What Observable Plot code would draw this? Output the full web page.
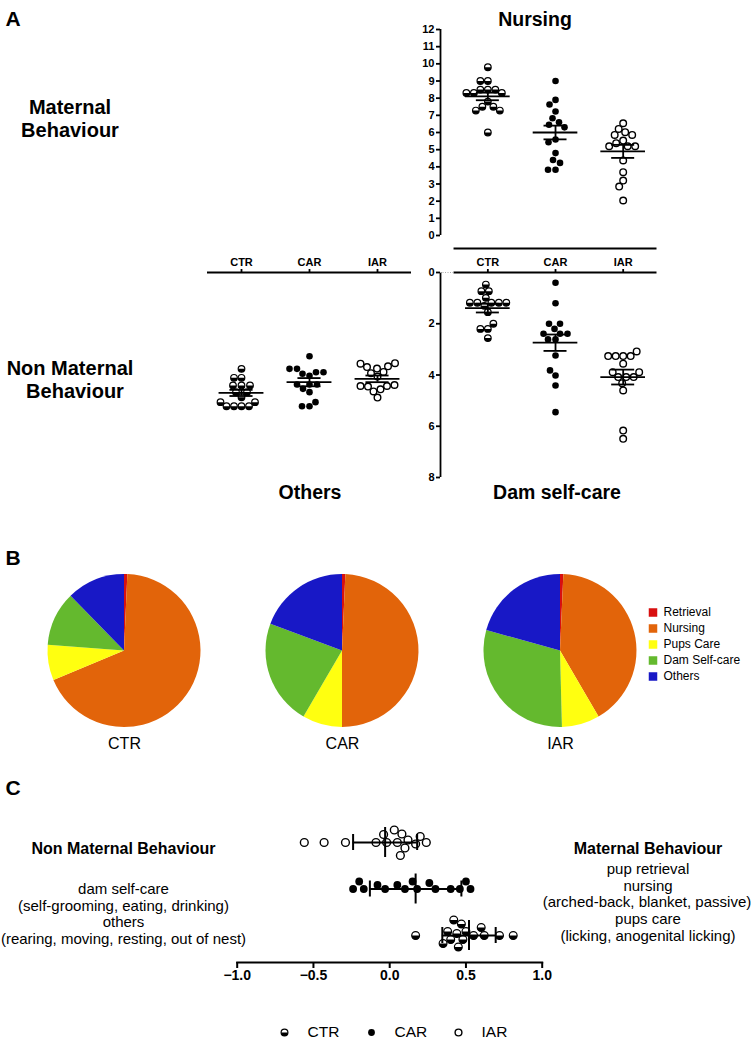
<!DOCTYPE html>
<html><head><meta charset="utf-8">
<script src="https://cdn.jsdelivr.net/npm/d3@7"></script>
<script src="https://cdn.jsdelivr.net/npm/@observablehq/plot@0.6"></script>
<style>
body{margin:0;background:#fff;font-family:"Liberation Sans",Arial,sans-serif;}
#root{position:relative;width:756px;height:1040px;overflow:hidden;background:#fff;}
.pl{position:absolute;}
.t{position:absolute;transform:translate(-50%,-50%);white-space:nowrap;color:#000;line-height:1;}
</style></head><body><div id="root"></div>
<script>
// ---------- DATA ----------
const groups = ["CTR", "CAR", "IAR"];

// Panel A - Nursing
const nursingCTR = [9.8, 9.0, 9.0, 8.5, 8.5, 8.5, 8.3, 8.3, 8.3, 7.8, 7.5, 7.5, 7.28, 7.28, 6.0];
const nursingCAR = [9.0, 7.9, 7.63, 7.22, 6.83, 6.6, 6.45, 6.3, 5.59, 5.43, 4.8, 4.4, 4.23, 3.83, 3.83];
const nursingIAR = [6.54, 6.21, 6.02, 5.86, 5.86, 5.53, 5.38, 5.2, 5.2, 5.2, 4.37, 3.69, 3.2, 2.85, 2.04];
const nursingMean = [8.1, 6.0, 4.9];
const nursingSEM = [0.22, 0.4, 0.38];
const nursingTicks = [0, 1, 2, 3, 4, 5, 6, 7, 8, 9, 10, 11, 12];

// Panel A - Dam self-care
const damCTR = [0.47, 0.73, 0.73, 0.99, 1.18, 1.18, 1.18, 1.18, 1.18, 1.3, 1.55, 2.0, 2.2, 2.2, 2.56];
const damCAR = [0.4, 1.2, 2.0, 2.0, 2.2, 2.39, 2.39, 2.39, 2.61, 2.61, 3.24, 3.82, 4.02, 4.41, 5.45];
const damIAR = [3.08, 3.26, 3.26, 3.26, 3.26, 3.56, 3.89, 3.89, 4.08, 4.08, 4.08, 4.32, 4.6, 6.17, 6.49];
const damMean = [1.39, 2.74, 4.08];
const damSEM = [0.17, 0.32, 0.29];
const damTicks = [0, 2, 4, 6, 8];

// Panel A - Others
const othersCTR = [3.76, 4.11, 4.11, 4.41, 4.41, 4.41, 4.67, 4.67, 4.87, 5.06, 5.06, 5.22, 5.22, 5.22, 5.22];
const othersCAR = [3.27, 3.76, 3.76, 3.89, 3.89, 3.95, 4.03, 4.37, 4.37, 4.37, 4.54, 4.67, 5.06, 5.22, 5.22];
const othersIAR = [3.54, 3.56, 3.66, 3.69, 3.75, 3.88, 3.93, 4.06, 4.39, 4.43, 4.43, 4.45, 4.56, 4.64, 4.88];
const othersMean = [4.70, 4.28, 4.15];
const othersSEM = [0.12, 0.16, 0.13];

// Panel B - pies (% of time)
const pieCategories = ["Retrieval", "Nursing", "Pups Care", "Dam Self-care", "Others"];
const pieCTR = [0.7, 68.0, 7.5, 11.5, 12.3];
const pieCAR = [0.7, 49.3, 8.4, 22.3, 19.3];
const pieIAR = [0.7, 40.9, 8.0, 29.7, 20.7];
const pieColors = ["#d80f0f", "#e2640a", "#ffff10", "#64b92e", "#1818c6"];

// Panel C
const cCTR = [0.17, 0.35, 0.38, 0.40, 0.42, 0.44, 0.45, 0.47, 0.48, 0.50, 0.55, 0.60, 0.62, 0.72, 0.81];
const cCAR = [-0.24, -0.2, -0.17, -0.08, -0.03, 0.05, 0.1, 0.15, 0.18, 0.26, 0.3, 0.4, 0.46, 0.5, 0.53];
const cIAR = [-0.56, -0.43, -0.29, -0.09, -0.04, -0.02, 0.03, 0.05, 0.07, 0.08, 0.10, 0.12, 0.17, 0.20, 0.24];
const cMean = [0.52, 0.17, -0.03];
const cSD = [0.175, 0.3, 0.21];
const cTicks = [-1, -0.5, 0, 0.5, 1];

// ---------- HELPERS ----------
const FONT = '"Liberation Sans", Arial, sans-serif';
const root = document.getElementById("root");
function place(node, left, top) { node.classList.add("pl"); node.style.left = left + "px"; node.style.top = top + "px"; root.appendChild(node); }
function label(text, cx, cy, size, bold) {
  const d = document.createElement("div"); d.className = "t"; d.textContent = text;
  d.style.left = cx + "px"; d.style.top = cy + "px"; d.style.fontSize = size + "px";
  d.style.fontWeight = bold ? "bold" : "normal"; root.appendChild(d);
}
// simple beeswarm: offsets (in offset-axis data units) so dots don't collide
function swarm(vals, kOff, kVal, sep) {
  const order = d3.range(vals.length).sort((a, b) => d3.descending(vals[a], vals[b]));
  const placed = []; const off = new Array(vals.length);
  for (const i of order) {
    const v = vals[i] * kVal;
    for (let k = 0; k < 400; k++) {
      const o = (k % 2 ? -1 : 1) * Math.ceil(k / 2) * 0.5;
      if (placed.every(p => (p.o - o) ** 2 + (p.v - v) ** 2 >= sep * sep - 1e-6)) { placed.push({o, v}); off[i] = o / kOff; break; }
    }
  }
  return off;
}
function points(series, kOff, kVal, sep) {
  const out = [];
  series.forEach((vals, gi) => {
    const off = swarm(vals, kOff, kVal, sep);
    vals.forEach((v, j) => out.push({group: groups[gi], pos: gi + 1 + off[j], value: v}));
  });
  return out;
}
const halfDisc = {draw(ctx, size) { const r = Math.sqrt(size / Math.PI); ctx.moveTo(r, 0); ctx.arc(0, 0, r, 0, Math.PI); ctx.closePath(); }};
function dotMarks(data, ch, r) {
  const f = g => data.filter(d => d.group === g);
  return [
    Plot.dot(f("CTR"), {...ch, r, fill: "white", stroke: "black", strokeWidth: 1.2}),
    Plot.dot(f("CTR"), {...ch, r, symbol: halfDisc, fill: "black", stroke: "none"}),
    Plot.dot(f("CAR"), {...ch, r, fill: "black", stroke: "none"}),
    Plot.dot(f("IAR"), {...ch, r, fill: "white", stroke: "black", strokeWidth: 1.4})
  ];
}
function errA(means, sems) {
  const rows = groups.map((g, i) => ({x: i + 1, m: means[i], s: sems[i]}));
  const sw = 1.8;
  return [
    Plot.ruleY(rows, {y: "m", x1: d => d.x - 0.33, x2: d => d.x + 0.33, strokeWidth: sw}),
    Plot.ruleY(rows, {y: d => d.m + d.s, x1: d => d.x - 0.17, x2: d => d.x + 0.17, strokeWidth: sw}),
    Plot.ruleY(rows, {y: d => d.m - d.s, x1: d => d.x - 0.17, x2: d => d.x + 0.17, strokeWidth: sw}),
    Plot.ruleX(rows, {x: "x", y1: d => d.m - d.s, y2: d => d.m + d.s, strokeWidth: sw})
  ];
}
const axStyle = {fontFamily: FONT, fontSize: "11px", fontWeight: "bold", color: "black", background: "transparent", overflow: "visible"};

// ---------- PANEL A : Nursing ----------
const kxA = 216.5 / 3.2;
const nursingPts = points([nursingCTR, nursingCAR, nursingIAR], kxA, 17.17, 7.2);
place(Plot.plot({
  width: 270, height: 240, marginLeft: 40, marginRight: 13.5, marginTop: 9, marginBottom: 25,
  style: axStyle,
  x: {domain: [0.3, 3.5], range: [40, 256.5], axis: null},
  y: {domain: [0, 12], range: [215, 9], axis: null},
  marks: [
    Plot.ruleX([0.3], {y1: 0, y2: 12, strokeWidth: 1.8}),
    Plot.axisY({ticks: nursingTicks, tickSize: 4, tickPadding: 2, strokeWidth: 1.8}),
    Plot.ruleY([0], {x1: 0.5, x2: 3.5, dy: 13, strokeWidth: 1.8}),
    ...dotMarks(nursingPts, {x: "pos", y: "value"}, 3.3),
    ...errA(nursingMean, nursingSEM)
  ]
}), 400, 20);

// ---------- PANEL A : Dam self-care ----------
const damPts = points([damCTR, damCAR, damIAR], kxA, 25.625, 7.2);
place(Plot.plot({
  width: 270, height: 240, marginLeft: 40, marginRight: 13.5, marginTop: 27, marginBottom: 8,
  style: axStyle,
  x: {domain: [0.3, 3.5], range: [40, 256.5], axis: null},
  y: {domain: [0, 8], range: [27, 232], axis: null},
  marks: [
    Plot.ruleX([0.3], {y1: 0, y2: 8, strokeWidth: 1.8}),
    Plot.axisY({ticks: damTicks, tickSize: 4, tickPadding: 2, strokeWidth: 1.8}),
    Plot.ruleY([0], {x1: 0.5, x2: 3.5, strokeWidth: 1.8}),
    Plot.ruleY([0], {x1: 0.3, x2: 0.5, stroke: "#aaa", strokeDasharray: "1,1.5", strokeWidth: 1.2}),
    Plot.axisX({anchor: "top", ticks: [1, 2, 3], tickFormat: i => groups[i - 1], tickSize: 4, tickPadding: 3, strokeWidth: 1.8}),
    ...dotMarks(damPts, {x: "pos", y: "value"}, 3.3),
    ...errA(damMean, damSEM)
  ]
}), 400, 245);

// ---------- PANEL A : Others ----------
const othersPts = points([othersCTR, othersCAR, othersIAR], 68, 25.625, 7.2);
place(Plot.plot({
  width: 230, height: 240, marginLeft: 17, marginRight: 9, marginTop: 27, marginBottom: 8,
  style: axStyle,
  x: {domain: [0.5, 3.5], range: [17, 221], axis: null},
  y: {domain: [0, 8], range: [27, 232], axis: null},
  marks: [
    Plot.ruleY([0], {x1: 0.5, x2: 3.5, strokeWidth: 1.8}),
    Plot.axisX({anchor: "top", ticks: [1, 2, 3], tickFormat: i => groups[i - 1], tickSize: 4, tickPadding: 3, strokeWidth: 1.8}),
    ...dotMarks(othersPts, {x: "pos", y: "value"}, 3.3),
    ...errA(othersMean, othersSEM)
  ]
}), 190, 245);

// ---------- PANEL B : pies ----------
const pieSets = [pieCTR, pieCAR, pieIAR];
function pieMark(index, scales, values, dims) {
  const g = d3.create("svg:g");
  const r = 76.5, cy = dims.marginTop + r;
  const pie = d3.pie().sort(null).value(d => d.v);
  const arc = d3.arc().innerRadius(0).outerRadius(r);
  groups.forEach((grp, gi) => {
    g.append("g").attr("transform", `translate(${scales.x(grp)},${cy})`)
      .selectAll("path").data(pie(pieSets[gi].map((v, i) => ({v, c: pieCategories[i]})))).join("path")
      .attr("d", arc).attr("fill", d => scales.color(d.data.c));
  });
  return g.node();
}
place(Plot.plot({
  width: 756, height: 195, marginLeft: 0, marginRight: 103.5, marginTop: 9, marginBottom: 0,
  style: {fontFamily: FONT, background: "transparent", overflow: "visible", color: "black"},
  x: {type: "point", domain: groups, range: [123.5, 560.5], padding: 0, axis: null},
  y: {type: "point", domain: pieCategories, range: [46, 112.7], padding: 0, axis: null},
  color: {domain: pieCategories, range: pieColors},
  marks: [
    pieMark,
    Plot.text(groups, {x: d => d, text: d => d, frameAnchor: "bottom", dy: -11.7, fontSize: 16, fill: "black"}),
    Plot.dot(pieCategories, {y: d => d, frameAnchor: "right", symbol: "square", r: 4.8, fill: d => d}),
    Plot.text(pieCategories, {y: d => d, frameAnchor: "right", dx: 10.5, textAnchor: "start", text: d => d, fontSize: 12, fill: "black"})
  ]
}), 0, 565);

// ---------- PANEL C ----------
const kxC = 152.5, kyC = 46.5;
const cPts = [];
[cIAR, cCAR, cCTR].forEach((vals, ri) => {
  const off = swarm(vals, kyC, kxC, 8.5);
  const g = ["IAR", "CAR", "CTR"][ri];
  vals.forEach((v, j) => cPts.push({group: g, row: ri + 1 + off[j], value: v}));
});
const cRows = ["CTR", "CAR", "IAR"].map((g, i) => ({row: 3 - i, m: cMean[i], s: cSD[i]}));
place(Plot.plot({
  width: 756, height: 200, marginLeft: 236.7, marginRight: 214.3, marginTop: 10, marginBottom: 28,
  style: {...axStyle, fontSize: "14px"},
  x: {domain: [-1, 1], axis: null},
  y: {domain: [1, 3], range: [52, 145], axis: null},
  marks: [
    Plot.frame({anchor: "bottom", strokeWidth: 2}),
    Plot.axisX({anchor: "bottom", ticks: cTicks, tickFormat: d3.format(".1f"), tickSize: 6, tickPadding: 2, strokeWidth: 2}),
    ...dotMarks(cPts, {x: "value", y: "row"}, 3.9),
    Plot.ruleY(cRows, {y: "row", x1: d => d.m - d.s, x2: d => d.m + d.s, strokeWidth: 2}),
    Plot.ruleX(cRows, {x: d => d.m - d.s, y1: d => d.row - 8 / kyC, y2: d => d.row + 8 / kyC, strokeWidth: 2}),
    Plot.ruleX(cRows, {x: d => d.m + d.s, y1: d => d.row - 8 / kyC, y2: d => d.row + 8 / kyC, strokeWidth: 2}),
    Plot.ruleX(cRows, {x: "m", y1: d => d.row - 15 / kyC, y2: d => d.row + 15 / kyC, strokeWidth: 2})
  ]
}), 0, 790);

// ---------- bottom legend ----------
const legPts = groups.map(g => ({group: g}));
place(Plot.plot({
  width: 300, height: 30, margin: 0,
  style: {fontFamily: FONT, background: "transparent", overflow: "visible", color: "black"},
  x: {type: "point", domain: groups, range: [43.3, 218.3], padding: 0, axis: null},
  marks: [
    ...dotMarks(legPts, {x: "group"}, 3.4),
    Plot.text(groups, {x: d => d, text: d => d, dx: 23, textAnchor: "start", fontSize: 15.5, fill: "black"})
  ]
}), 240, 1017);

// ---------- text labels ----------
label("A", 13, 18, 21, true);
label("B", 13, 557, 21, true);
label("C", 13, 787, 21, true);
label("Nursing", 535, 20, 19.5, true);
label("Others", 310, 493, 19.5, true);
label("Dam self-care", 557, 493, 19.5, true);
label("Maternal", 70, 107, 20, true);
label("Behaviour", 70, 130, 20, true);
label("Non Maternal", 70, 368, 20, true);
label("Behaviour", 75, 391, 20, true);
label("Non Maternal Behaviour", 123.5, 849, 16, true);
label("dam self-care", 123.5, 888.3, 15, false);
label("(self-grooming, eating, drinking)", 123.5, 905, 15, false);
label("others", 123.5, 921.3, 15, false);
label("(rearing, moving, resting, out of nest)", 123.5, 938, 15, false);
label("Maternal Behaviour", 648, 849.3, 16, true);
label("pup retrieval", 648, 868.3, 15, false);
label("nursing", 648, 885, 15, false);
label("(arched-back, blanket, passive)", 647, 901.3, 15, false);
label("pups care", 648, 918, 15, false);
label("(licking, anogenital licking)", 648, 934.5, 15, false);
</script></body></html>
